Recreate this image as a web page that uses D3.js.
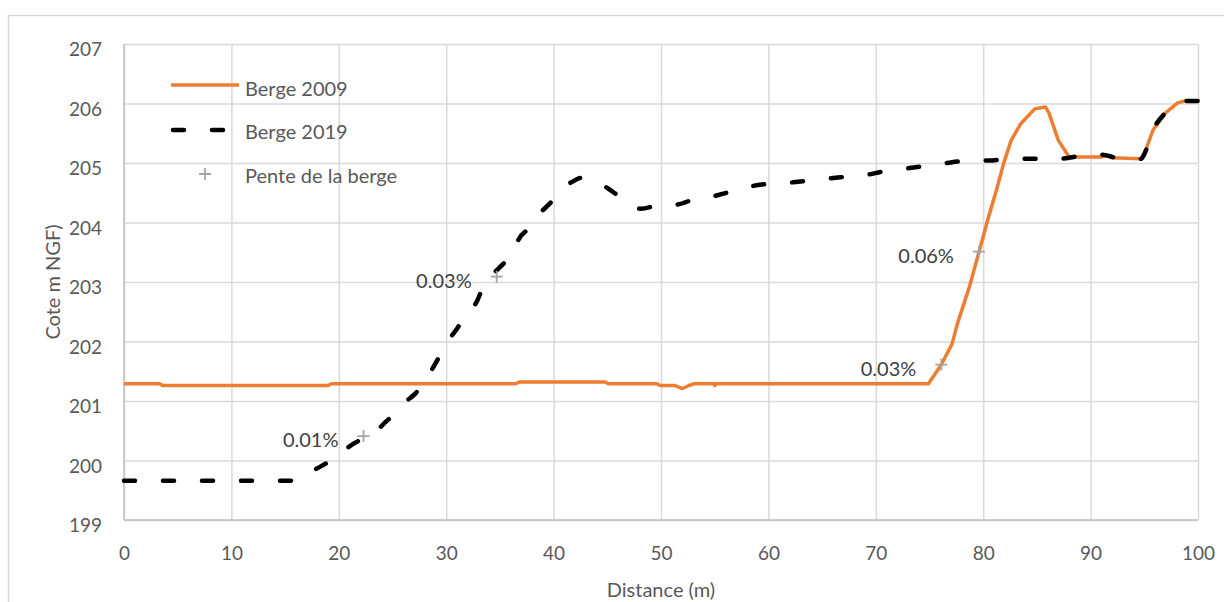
<!DOCTYPE html>
<html>
<head>
<meta charset="utf-8">
<script src="https://cdn.jsdelivr.net/npm/d3@7"></script>
<style>
  body { margin: 0; background: #fff; }
  svg text { font-family: Lato, "Open Sans", sans-serif; }
</style>
</head>
<body>
<svg id="chart" width="1224" height="602"></svg>
<script>
// profil en travers de la berge - 2009 vs 2019

// Berge 2009 (distance m, cote m NGF)
const dist2009 = [0, 3.3, 3.6, 19.0, 19.3, 36.5, 36.8, 44.8, 45.1, 49.6, 49.9, 51.3, 52.0, 52.6, 53.1, 54.9, 55.0, 55.1, 74.9, 76.1,
    77.1, 77.6, 78.7, 79.6, 80.4, 81.3, 81.9, 82.6, 83.5, 84.8, 85.8, 86.1, 87.0, 88.0, 91.0, 91.6, 91.9, 94.7, 95.0, 95.8,
    96.9, 98.1, 98.7, 100];
const cote2009 = [201.29, 201.29, 201.26, 201.26, 201.29, 201.29, 201.32, 201.32, 201.29, 201.29, 201.26, 201.26, 201.21, 201.26, 201.29, 201.29, 201.26, 201.29, 201.29, 201.61,
    201.96, 202.30, 202.91, 203.50, 204.03, 204.59, 204.99, 205.38, 205.66, 205.91, 205.94, 205.85, 205.38, 205.10, 205.10, 205.13, 205.09, 205.07, 205.15, 205.55,
    205.83, 206.01, 206.04, 206.04];

// Berge 2019
const dist2019 = [0, 15.5, 17.2, 17.9, 19.5, 20.4, 22.0, 22.9, 24.2, 24.8, 26.3, 27.1, 28.0, 28.5, 29.4, 30.0, 31.1, 31.8, 32.9, 33.3,
    34.4, 35.0, 36.3, 36.7, 38.0, 38.6, 39.9, 40.5, 42.0, 42.5, 43.1, 45.0, 45.8, 47.3, 48.1, 50.1, 51.3, 53.3, 54.6, 56.3,
    57.6, 59.4, 60.8, 63.0, 66.7, 69.4, 70.5, 72.6, 73.7, 75.9, 77.0, 79.1, 80.5, 82.6, 86.9, 89.6, 91.0, 92.8, 93.8, 94.7,
    95.0, 95.8, 96.9, 98.1, 98.7, 100];
const cote2019 = [199.66, 199.66, 199.79, 199.86, 200.03, 200.16, 200.34, 200.39, 200.62, 200.72, 201.0, 201.12, 201.34, 201.48, 201.76, 201.96, 202.24, 202.44, 202.69, 202.86,
    203.14, 203.25, 203.53, 203.70, 203.95, 204.12, 204.37, 204.51, 204.71, 204.75, 204.72, 204.58, 204.48, 204.30, 204.23, 204.30, 204.30, 204.40, 204.43, 204.51,
    204.57, 204.64, 204.65, 204.69, 204.76, 204.81, 204.85, 204.90, 204.93, 204.98, 205.01, 205.04, 205.04, 205.07, 205.07, 205.13, 205.14, 205.07, 205.06, 205.07,
    205.15, 205.55, 205.83, 206.01, 206.04, 206.04];

// Pente de la berge (points + etiquettes)
const penteX = [22.3, 34.7, 76.1, 79.6];
const penteY = [200.41, 203.09, 201.61, 203.51];
const penteLabels = ['0.01%', '0.03%', '0.03%', '0.06%'];

// axes
const xTicks = [0, 10, 20, 30, 40, 50, 60, 70, 80, 90, 100];
const yTicks = [199, 200, 201, 202, 203, 204, 205, 206, 207];

const svg = d3.select('#chart');

//outer chart border
svg.append('rect')
    .attr('x', 8.5).attr('y', 15.5)
    .attr('width', 1400).attr('height', 800)
    .attr('fill', 'none')
    .attr('stroke', '#d9d9d9')
    .attr('stroke-width', 1.5);

const plotLeft = 124, plotRight = 1198, plotTop = 44, plotBottom = 520;

const xScale = d3.scaleLinear().domain([0, 100]).range([plotLeft, plotRight]);
const yScale = d3.scaleLinear().domain([199, 207]).range([plotBottom, plotTop]);

//gridlines
svg.append('g')
    .attr('transform', `translate(0, ${plotBottom})`)
    .call(d3.axisBottom(xScale).tickValues(xTicks).tickSize(-(plotBottom - plotTop)).tickFormat(''))
    .call(g => g.select('.domain').remove())
    .call(g => g.selectAll('line').attr('stroke', '#d9d9d9').attr('stroke-width', 1.5));

svg.append('g')
    .attr('transform', `translate(${plotLeft}, 0)`)
    .call(d3.axisLeft(yScale).tickValues(yTicks).tickSize(-(plotRight - plotLeft)).tickFormat(''))
    .call(g => g.select('.domain').remove())
    .call(g => g.selectAll('line').attr('stroke', '#d9d9d9').attr('stroke-width', 1.5));

//axis lines
svg.append('line')
    .attr('x1', plotLeft).attr('x2', plotLeft).attr('y1', plotTop).attr('y2', plotBottom)
    .attr('stroke', '#bfbfbf').attr('stroke-width', 1.5);
svg.append('line')
    .attr('x1', plotLeft).attr('x2', plotRight).attr('y1', plotBottom).attr('y2', plotBottom)
    .attr('stroke', '#bfbfbf').attr('stroke-width', 1.5);

//tick labels
svg.append('g')
    .attr('transform', `translate(0, ${plotBottom})`)
    .call(d3.axisBottom(xScale).tickValues(xTicks).tickSize(0).tickPadding(27))
    .call(g => g.select('.domain').remove())
    .call(g => g.selectAll('text').attr('fill', '#595959').attr('font-size', '19px')
        .style('font-family', 'Lato, sans-serif'));

svg.append('g')
    .attr('transform', `translate(${plotLeft}, 0)`)
    .call(d3.axisLeft(yScale).tickValues(yTicks).tickSize(0).tickPadding(22))
    .call(g => g.select('.domain').remove())
    .call(g => g.selectAll('text').attr('fill', '#595959').attr('font-size', '19px')
        .attr('dy', '0.62em').style('font-family', 'Lato, sans-serif'));

//axis titles
svg.append('text')
    .attr('x', (plotLeft + plotRight) / 2)
    .attr('y', 597)
    .attr('text-anchor', 'middle')
    .attr('font-size', '20px')
    .attr('fill', '#595959')
    .text('Distance (m)');

svg.append('text')
    .attr('transform', `translate(60, ${(plotTop + plotBottom) / 2}) rotate(-90)`)
    .attr('text-anchor', 'middle')
    .attr('font-size', '20px')
    .attr('fill', '#595959')
    .text('Cote m NGF)');

//lines
const line2009 = d3.line()
    .x((d, i) => xScale(dist2009[i]))
    .y(d => yScale(d));

const line2019 = d3.line()
    .x((d, i) => xScale(dist2019[i]))
    .y(d => yScale(d))
    .curve(d3.curveMonotoneX);

svg.append('path')
    .datum(cote2009)
    .attr('fill', 'none')
    .attr('stroke', '#ed7d31')
    .attr('stroke-width', 3.5)
    .attr('stroke-linejoin', 'round')
    .attr('d', line2009);

svg.append('path')
    .datum(cote2019)
    .attr('fill', 'none')
    .attr('stroke', '#000')
    .attr('stroke-width', 4.5)
    .attr('stroke-linecap', 'round')
    .attr('stroke-dasharray', '11 28')
    .attr('d', line2019);

//pente markers
svg.selectAll('.pente')
    .data(penteX)
    .enter()
    .append('path')
    .attr('class', 'pente')
    .attr('d', 'M-6,0H6M0,-6V6')
    .attr('transform', (d, i) => `translate(${xScale(d)}, ${yScale(penteY[i])})`)
    .attr('stroke', '#a5a5a5')
    .attr('stroke-width', 1.8)
    .attr('fill', 'none');

svg.selectAll('.penteLabel')
    .data(penteX)
    .enter()
    .append('text')
    .attr('class', 'penteLabel')
    .attr('x', d => xScale(d) - 25)
    .attr('y', (d, i) => yScale(penteY[i]) + 11)
    .attr('text-anchor', 'end')
    .attr('font-size', '20px')
    .attr('fill', '#404040')
    .text((d, i) => penteLabels[i]);

//legend
const legend = svg.append('g');
legend.append('line')
    .attr('x1', 171).attr('x2', 239).attr('y1', 85).attr('y2', 85)
    .attr('stroke', '#ed7d31').attr('stroke-width', 3.5);
legend.append('line')
    .attr('x1', 173).attr('x2', 232).attr('y1', 130).attr('y2', 130)
    .attr('stroke', '#000').attr('stroke-width', 4.5)
    .attr('stroke-linecap', 'round')
    .attr('stroke-dasharray', '11 28');
legend.append('path')
    .attr('d', 'M-6,0H6M0,-6V6')
    .attr('transform', 'translate(205, 174)')
    .attr('stroke', '#a5a5a5').attr('stroke-width', 1.8);

const legendNames = ['Berge 2009', 'Berge 2019', 'Pente de la berge'];
const legendY = [96, 139, 183];
legend.selectAll('.legendText')
    .data(legendNames)
    .enter()
    .append('text')
    .attr('x', 245)
    .attr('y', (d, i) => legendY[i])
    .attr('font-size', '20px')
    .attr('fill', '#595959')
    .text(d => d);
</script>
</body>
</html>
